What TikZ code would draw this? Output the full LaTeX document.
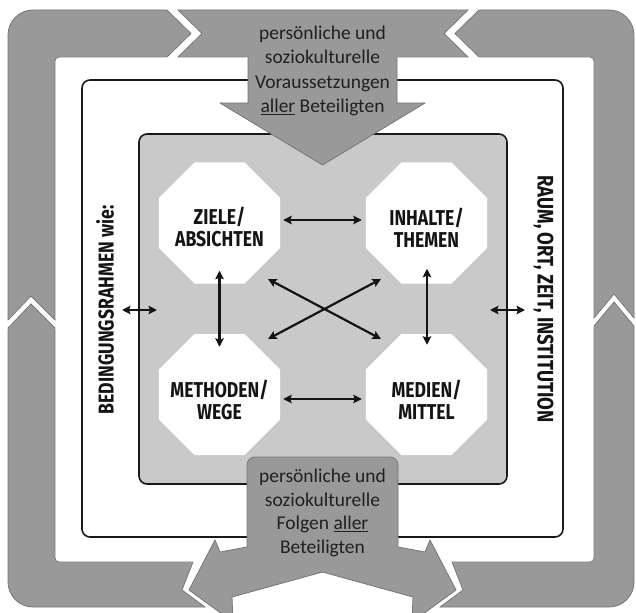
\documentclass[tikz,border=0pt]{standalone}
\usepackage{fontspec}
\usetikzlibrary{shapes.geometric,arrows.meta}
\setmainfont{Carlito}
\newfontfamily\capsfont[FakeStretch=0.82]{Fira Sans}
\definecolor{ringgray}{RGB}{153,153,153}
\definecolor{ringedge}{RGB}{118,118,118}
\definecolor{panelgray}{RGB}{201,201,201}
\definecolor{inkgray}{RGB}{32,32,32}
\begin{document}
\begin{tikzpicture}[x=1pt,y=-1pt,
  ringline/.style={draw=ringedge,line width=0.8pt,line join=round},
  framebox/.style={draw=black!90,line width=1.6pt,rounded corners=8pt},
  octa/.style={regular polygon,regular polygon sides=8,fill=white,
    minimum size=131pt,inner sep=0pt},
  capsfnt/.style={font=\capsfont\bfseries\fontsize{21.5}{22}\selectfont},
  octlabel/.style={capsfnt,align=center,text=black!92},
  flowtext/.style={font=\fontsize{19.5}{24.5}\selectfont,align=center,text=inkgray},
  link/.style={line width=2.2pt,<->,>={Stealth[length=8.5pt,width=8.5pt,inset=1.5pt]},draw=black!92},
]
\useasboundingbox (0,0) rectangle (636,612);
\clip (0,0) rectangle (636,612);
\fill[white] (0,0) rectangle (636,612);

% outer ring of feedback arrows
\path[fill=ringgray,ringline,rounded corners=25pt] (8,10) rectangle (634,607);
\path[fill=white,ringline,rounded corners=4pt] (55,57) rectangle (594,562);

% white joints between the ring segments
\fill[white] (161.9,5) -- (191,33.5) -- (161.9,62) -- (172.9,62) -- (202,33.5) -- (172.9,5) -- cycle;
\fill[white] (473.1,5) -- (444,33.5) -- (473.1,62) -- (484.1,62) -- (455,33.5) -- (484.1,5) -- cycle;
\fill[white] (3,325.2) -- (31,296) -- (60,325.2) -- (60,333.2) -- (31,304) -- (3,333.2) -- cycle;
\fill[white] (589,324) -- (614,294) -- (639,324) -- (639,332) -- (614,302) -- (589,332) -- cycle;
\fill[white] (195.8,555) -- (182,590) -- (215.8,615) -- (429.2,615) -- (463,590) -- (449.2,555) -- cycle;

% edges of the segment ends
\draw[ringline] (167,10) -- (191,33.5) -- (167,57);
\draw[ringline] (178,10) -- (202,33.5) -- (178,57);
\draw[ringline] (468,10) -- (444,33.5) -- (468,57);
\draw[ringline] (479,10) -- (455,33.5) -- (479,57);
\draw[ringline] (8,320) -- (31,296) -- (55,320);
\draw[ringline] (8,328) -- (31,304) -- (55,328);
\draw[ringline] (594,318) -- (614,294) -- (634,318);
\draw[ringline] (594,326) -- (614,302) -- (634,326);
\draw[ringline] (193,562) -- (182,590) -- (205,607);
\draw[ringline] (452,562) -- (463,590) -- (440,607);

% frame of conditions and the didactic core
\draw[framebox,fill=white] (82,80) rectangle (563,537);
\draw[framebox,fill=panelgray] (139,134) rectangle (507,484);

% incoming arrow: prerequisites
\fill[ringgray] (248,52) -- (248,103) -- (220,103) -- (322.5,165) -- (425,103) -- (397,103) -- (397,52) -- cycle;
\draw[ringline] (248,57.4) -- (248,103) -- (220,103) -- (322.5,165) -- (425,103) -- (397,103) -- (397,57.4);

% outgoing arrows: consequences
\path[fill=ringgray,ringline] (247,547) -- (247,465)
  .. controls (247,460.6) and (250.6,457) .. (255,457) -- (390,457)
  .. controls (394.4,457) and (398,460.6) .. (398,465) -- (398,547)
  -- (425,552) -- (430,540) -- (456,590) -- (412,622) -- (413,597)
  -- (322.5,572) -- (232,597) -- (233,622) -- (189,590) -- (215,540)
  -- (220,552) -- cycle;

% the four fields
\node[octa] (zi) at (219.5,223) {};
\node[octa] (in) at (426.5,223) {};
\node[octa] (me) at (219.5,394.5) {};
\node[octa] (mm) at (426.5,394.5) {};
\node[octlabel] (zit) at ([yshift=-3.5pt]zi.center) {ZIELE/\\ABSICHTEN};
\node[octlabel] (int) at ([yshift=-5pt]in.center) {INHALTE/\\THEMEN};
\node[octlabel] (met) at ([yshift=-5pt]me.center) {METHODEN/\\WEGE};
\node[octlabel] (mmt) at ([yshift=-5pt]mm.center) {MEDIEN/\\MITTEL};

% interdependencies
\draw[link,shorten <=3pt,shorten >=4pt] ([yshift=3pt]zi.east) -- ([yshift=3pt]in.west);
\draw[link,shorten <=3pt,shorten >=4pt] ([yshift=-4.5pt]me.east) -- ([yshift=-4.5pt]mm.west);
\draw[link,shorten <=-13pt,shorten >=-13pt] (zi.south) -- (me.north);
\draw[link,shorten <=-15pt,shorten >=-11pt] ([xshift=0.5pt]in.south) -- ([xshift=0.5pt]mm.north);
\coordinate (xa) at (268,279);
\coordinate (xb) at (381,339);
\coordinate (xc) at (268,339);
\coordinate (xd) at (381,279);
\draw[link] (xa) -- (xb);
\draw[link] (xc) -- (xd);

% side conditions
\node[rotate=90,capsfnt,text=black!92] (bed) at (105,310) {BEDINGUNGSRAHMEN wie:};
\node[rotate=-90,font=\capsfont\bfseries\fontsize{22.5}{23}\selectfont,text=black!92] (rau) at (543.5,299) {RAUM, ORT, ZEIT, INSTITUTION};
\coordinate (la) at (122,310);
\coordinate (lb) at (157,310);
\coordinate (ra) at (490,310);
\coordinate (rb) at (525,310);
\draw[link] (la) -- (lb);
\draw[link] (ra) -- (rb);

% texts on the ring arrows
\node[flowtext] (pre) at (322.5,71) {persönliche und\\soziokulturelle\\Voraussetzungen\\\underline{aller} Beteiligten};
\node[flowtext,font=\fontsize{19.5}{23.5}\selectfont] (post) at (322.5,513) {persönliche und\\soziokulturelle\\Folgen \underline{aller}\\Beteiligten};
\end{tikzpicture}
\end{document}
